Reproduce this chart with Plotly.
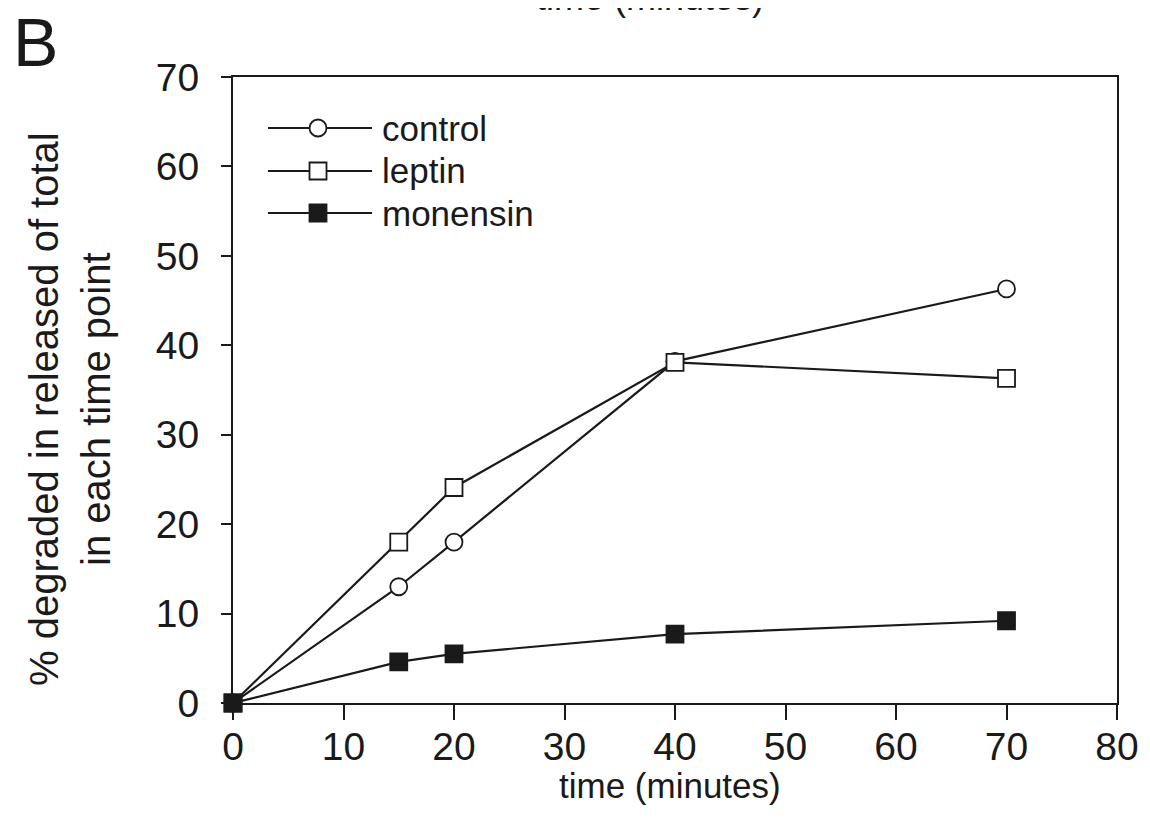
import plotly.graph_objects as go

time_pts = [0, 15, 20, 40, 70]
control = [0, 13.0, 18.0, 38.2, 46.3]
leptin = [0, 18.0, 24.1, 38.1, 36.3]
monensin = [0, 4.6, 5.5, 7.7, 9.2]

x_ticks = [0, 10, 20, 30, 40, 50, 60, 70, 80]
y_ticks = [0, 10, 20, 30, 40, 50, 60, 70]

legend_names = ["control", "leptin", "monensin"]

W, H = 1150, 823
# the page body adds an 8px offset; margins are chosen so the plot lands at
# screen x 233..1117, y 77..703
L, R, T, B = 225, 41, 69, 128
pw, ph = W - L - R, H - T - B

def px(x):
    return (x - 233) / pw

def py(y):
    return (703 - y) / ph

FONT = "Liberation Sans, Arial, sans-serif"
INK = "#1a1a1a"

fig = go.Figure()
line_style = dict(color=INK, width=2.2)
fig.add_trace(go.Scatter(x=time_pts, y=control, mode="lines+markers", name="control",
                         line=line_style, cliponaxis=False,
                         marker=dict(symbol="circle", size=17, color="white",
                                     line=dict(color=INK, width=1.8))))
fig.add_trace(go.Scatter(x=time_pts, y=leptin, mode="lines+markers", name="leptin",
                         line=line_style, cliponaxis=False,
                         marker=dict(symbol="square", size=17, color="white",
                                     line=dict(color=INK, width=1.8))))
fig.add_trace(go.Scatter(x=time_pts, y=monensin, mode="lines+markers", name="monensin",
                         line=line_style, cliponaxis=False,
                         marker=dict(symbol="square", size=17, color=INK,
                                     line=dict(color=INK, width=1.8))))

# manual legend
rows_y = [128, 171, 213]
symbols = [("circle", "white"), ("rect", "white"), ("rect", INK)]
shapes = []
annotations = []
for name, ry, (sym, fill) in zip(legend_names, rows_y, symbols):
    shapes.append(dict(type="line", xref="paper", yref="paper",
                       x0=px(268), x1=px(372), y0=py(ry), y1=py(ry),
                       line=dict(color=INK, width=2.2)))
    r = 8.5
    shapes.append(dict(type=sym, xref="paper", yref="paper",
                       x0=px(318 - r), x1=px(318 + r), y0=py(ry - r), y1=py(ry + r),
                       fillcolor=fill, line=dict(color=INK, width=1.8), layer="above"))
    annotations.append(dict(text=name, xref="paper", yref="paper", x=px(380), y=py(ry),
                            xanchor="left", yanchor="middle", showarrow=False,
                            font=dict(family=FONT, size=35, color=INK)))

annotations += [
    dict(text="B", xref="paper", yref="paper", x=px(35), y=py(42), xanchor="center",
         yanchor="middle", showarrow=False, borderpad=0,
         font=dict(family=FONT, size=68, color=INK)),
    dict(text="time (minutes)", xref="paper", yref="paper", x=px(670), y=py(785),
         xanchor="center", yanchor="middle", showarrow=False,
         font=dict(family=FONT, size=35, color=INK)),
    dict(text="time (minutes)", xref="paper", yref="paper", x=px(650), y=py(20),
         xanchor="center", yanchor="bottom", showarrow=False,
         font=dict(family=FONT, size=36, color=INK)),
    dict(text="% degraded in released of total<br>in each time point", xref="paper", yref="paper",
         x=px(70), y=py(409), xanchor="center", yanchor="middle", textangle=-90,
         showarrow=False, font=dict(family=FONT, size=40, color=INK)),
]

fig.update_layout(
    width=W, height=H,
    margin=dict(l=L, r=R, t=T, b=B, pad=0),
    paper_bgcolor="white", plot_bgcolor="white",
    showlegend=False,
    shapes=shapes, annotations=annotations,
    font=dict(family=FONT, color=INK),
)
fig.update_xaxes(range=[0, 80], tickvals=x_ticks, ticktext=[str(v) for v in x_ticks],
                 showgrid=False, zeroline=False, showline=True, linecolor=INK,
                 linewidth=2, mirror=True, ticks="outside", ticklen=15, tickwidth=2,
                 tickcolor=INK, ticklabelstandoff=-7,
                 tickfont=dict(family=FONT, size=39, color=INK))
fig.update_yaxes(range=[0, 70], tickvals=y_ticks, ticktext=[str(v) for v in y_ticks],
                 showgrid=False, zeroline=False, showline=True, linecolor=INK,
                 linewidth=2, mirror=True, ticks="outside", ticklen=10, tickwidth=2,
                 tickcolor=INK, ticklabelstandoff=14,
                 tickfont=dict(family=FONT, size=39, color=INK))

fig.write_html("out.html")
